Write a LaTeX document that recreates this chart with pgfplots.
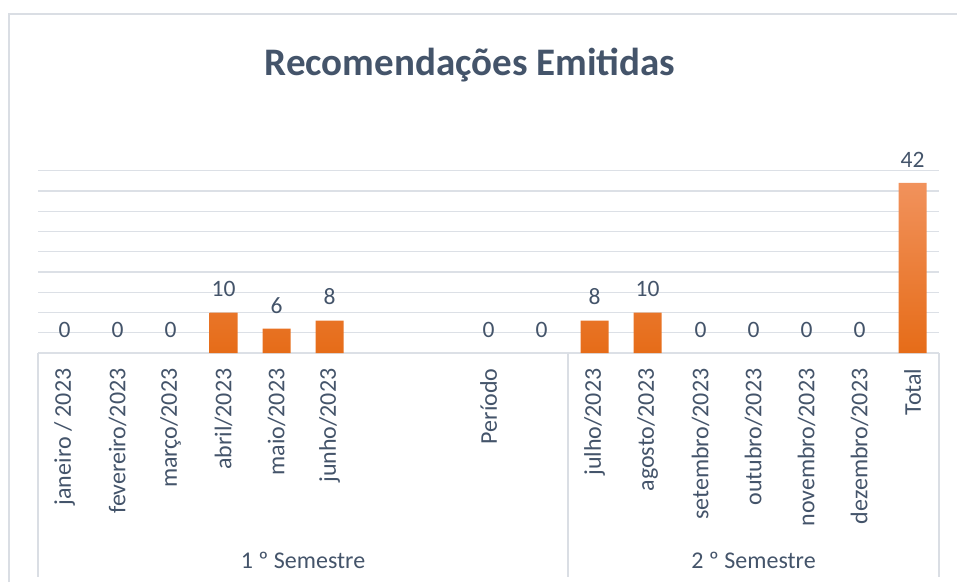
\documentclass[border=0pt]{standalone}
\usepackage{pgfplots}
\pgfplotsset{compat=1.18}
\usetikzlibrary{calc}
\usepackage{fontspec}
\setmainfont{Carlito}
\definecolor{txt}{RGB}{68,84,106}
\definecolor{gridc}{RGB}{220,224,230}
\definecolor{frame}{RGB}{218,222,228}
\definecolor{barTop}{RGB}{241,146,92}
\definecolor{barBot}{RGB}{230,108,24}

\begin{document}
\begin{tikzpicture}[x=1pt,y=1pt]
\useasboundingbox (0,0) rectangle (957,-582);
% chart frame
\draw[frame, line width=1.6pt] (9,-582) -- (9,-14) -- (957,-14);
% title
\node[txt, font=\fontsize{39}{40}\selectfont\bfseries, anchor=base] at (470,-75) {Recomendações Emitidas};

\begin{axis}[
    at={(38pt,-353pt)}, anchor=south west,
    scale only axis,
    width=901pt, height=182.3pt,
    xmin=-0.5, xmax=16.5,
    ymin=0, ymax=45,
    axis line style={draw=none},
    clip=false,
    /pgf/number format/assume math mode=true,
    ytick={0,5,...,45},
    ymajorgrids=true,
    grid style={gridc, line width=1.3pt},
    xtick={0,...,16},
    xticklabels={janeiro / 2023, fevereiro/2023, março/2023, abril/2023, maio/2023, junho/2023, {}, {}, Período, {}, julho/2023, agosto/2023, setembro/2023, outubro/2023, novembro/2023, dezembro/2023, Total},
    yticklabels={},
    major tick length=0pt,
    xticklabel style={rotate=90, anchor=east, text=txt, font=\fontsize{24}{25}\selectfont, xshift=-12pt},
    nodes near coords style={text=txt, font=\fontsize{23.5}{24}\selectfont, anchor=south, yshift=12pt},
]
\addplot[ybar, bar width=28pt, bar shift=0pt, draw=none,
    top color=barTop, bottom color=barBot,
    nodes near coords]
  coordinates {(3,10) (4,6) (5,8) (10,8) (11,10) (16,42)};
\addplot[draw=none, mark=none, nodes near coords]
  coordinates {(0,0) (1,0) (2,0) (8,0) (9,0) (12,0) (13,0) (14,0) (15,0)};
% category boxes
\draw[frame, line width=1.3pt] (axis cs:-0.5,0) -- ($(axis cs:-0.5,0)+(0pt,-224pt)$);
\draw[frame, line width=1.3pt] (axis cs:9.5,0) -- ($(axis cs:9.5,0)+(0pt,-224pt)$);
\draw[frame, line width=1.3pt] (axis cs:16.5,0) -- ($(axis cs:16.5,0)+(0pt,-224pt)$);
\node[txt, font=\fontsize{24}{25}\selectfont, anchor=base] at ($(axis cs:4.5,0)+(0pt,-215pt)$) {1 º Semestre};
\node[txt, font=\fontsize{24}{25}\selectfont, anchor=base] at ($(axis cs:13,0)+(0pt,-215pt)$) {2 º Semestre};
\end{axis}
\end{tikzpicture}
\end{document}
